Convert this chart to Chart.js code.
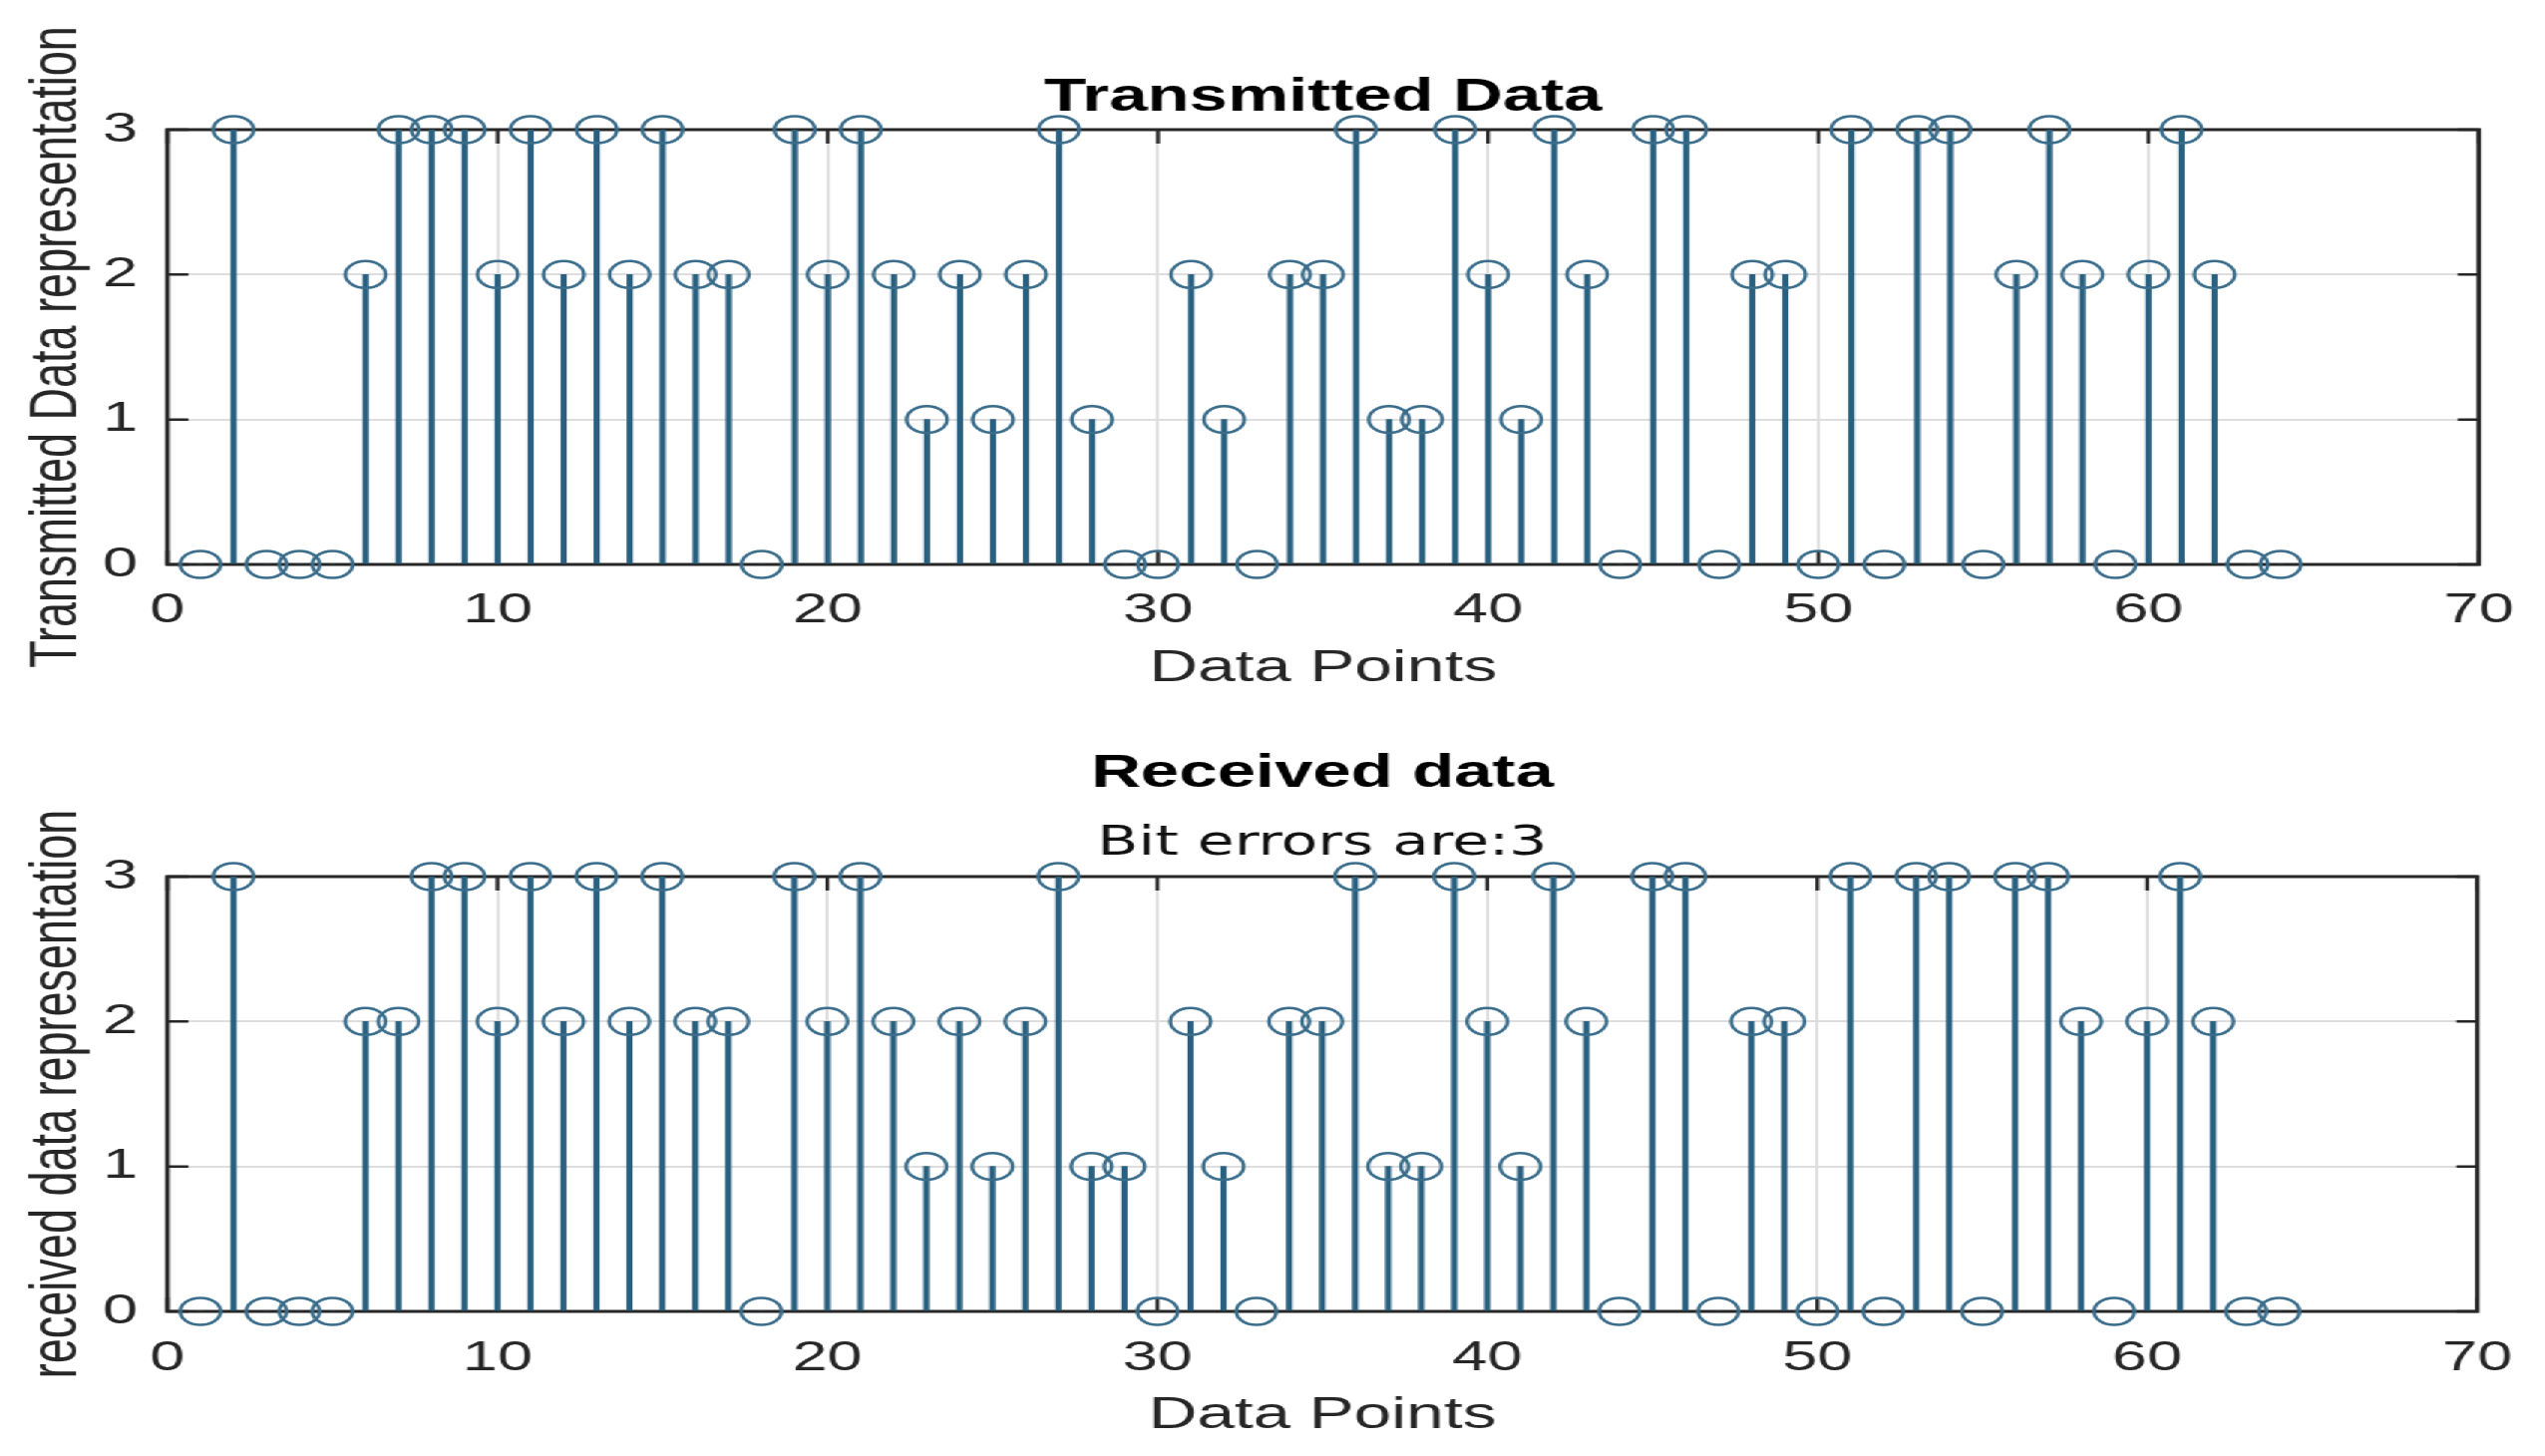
<!DOCTYPE html>
<html>
<head>
<meta charset="utf-8">
<script src="https://cdn.jsdelivr.net/npm/chart.js@4.4.1/dist/chart.umd.min.js"></script>
<style>
  html, body { margin: 0; padding: 0; background: #ffffff; overflow: hidden; }
  #wrap { position: absolute; left: 0; top: 0; width: 1702px; height: 1460px;
          transform: scaleX(1.49941); transform-origin: 0 0; }
  canvas { display: block; }
</style>
</head>
<body>
<div id="wrap">
  <canvas id="c1" width="1702" height="730"></canvas>
  <canvas id="c2" width="1702" height="730"></canvas>
</div>
<script>
// ---- data ----
const dataPoints = [1,2,3,4,5,6,7,8,9,10,11,12,13,14,15,16,17,18,19,20,21,22,23,24,25,26,27,28,29,30,31,32,
                    33,34,35,36,37,38,39,40,41,42,43,44,45,46,47,48,49,50,51,52,53,54,55,56,57,58,59,60,61,62,63,64];
const transmitted = [0,3,0,0,0,2,3,3,3,2,3,2,3,2,3,2,2,0,3,2,3,2,1,2,1,2,3,1,0,0,2,1,
                     0,2,2,3,1,1,3,2,1,3,2,0,3,3,0,2,2,0,3,0,3,3,0,2,3,2,0,2,3,2,0,0];
const received    = [0,3,0,0,0,2,2,3,3,2,3,2,3,2,3,2,2,0,3,2,3,2,1,2,1,2,3,1,1,0,2,1,
                     0,2,2,3,1,1,3,2,1,3,2,0,3,3,0,2,2,0,3,0,3,3,0,3,3,2,0,2,3,2,0,0];
const xTickValues = [0,10,20,30,40,50,60,70];
const yTickValues = [0,1,2,3];
const bitErrors = 3;

// ---- styles ----
const FONT = "'Liberation Sans', Arial, Helvetica, sans-serif";
Chart.defaults.font.family = FONT;
const STEM_COLOR = '#29607f';
const MARK_COLOR = '#3a6d8b';
const AXIS_COLOR = '#262626';
const GRID_COLOR = '#dedede';
const TICK_LEN = 14;

const matlabAxes = {
  id: 'matlabAxes',
  beforeDatasetsDraw(chart) {
    const {ctx, chartArea: a, scales: {x, y}} = chart;
    ctx.save();
    ctx.strokeStyle = AXIS_COLOR;
    ctx.lineWidth = 2.5;
    ctx.beginPath();
    x.ticks.forEach(t => {
      const px = x.getPixelForValue(t.value);
      ctx.moveTo(px, a.bottom); ctx.lineTo(px, a.bottom - TICK_LEN);
      ctx.moveTo(px, a.top); ctx.lineTo(px, a.top + TICK_LEN);
    });
    y.ticks.forEach(t => {
      const py = y.getPixelForValue(t.value);
      ctx.moveTo(a.left, py); ctx.lineTo(a.left + TICK_LEN, py);
      ctx.moveTo(a.right, py); ctx.lineTo(a.right - TICK_LEN, py);
    });
    ctx.stroke();
    ctx.lineWidth = 3;
    ctx.strokeRect(a.left, a.top, a.right - a.left, a.bottom - a.top);
    ctx.restore();
  }
};

function makeChart(id, values, cfg) {
  const pts = dataPoints.map((p, i) => ({x: p, y: values[i]}));
  const plugins = {
    legend: {display: false},
    tooltip: {enabled: false},
    title: {
      display: true, text: cfg.title, color: '#000000', fullSize: false,
      font: {family: FONT, size: 46, weight: 'bold'},
      padding: cfg.titlePadding
    }
  };
  if (cfg.subtitle) {
    plugins.subtitle = {
      display: true, text: cfg.subtitle, color: '#111111', fullSize: false,
      font: {family: "'DejaVu Sans', sans-serif", size: 40, weight: 'normal'},
      padding: cfg.subtitlePadding
    };
  }
  return new Chart(document.getElementById(id), {
    type: 'bar',
    data: {
      datasets: [
        {
          type: 'line', data: pts, showLine: false, order: 0, clip: false,
          pointStyle: 'circle', pointRadius: 13.5, pointHoverRadius: 13.5,
          pointBorderWidth: 2.5, pointBorderColor: MARK_COLOR,
          pointBackgroundColor: 'rgba(255,255,255,0)'
        },
        {
          type: 'bar', data: pts, order: 1, barThickness: 3.5,
          backgroundColor: STEM_COLOR, borderWidth: 0
        }
      ]
    },
    options: {
      responsive: false,
      animation: false,
      devicePixelRatio: 1,
      layout: {padding: {left: 0, right: 36, top: 0, bottom: 0}},
      plugins,
      scales: {
        x: {
          type: 'linear', min: 0, max: 70, offset: false,
          afterBuildTicks(scale) { scale.ticks = xTickValues.map(v => ({value: v})); },
          ticks: {padding: cfg.xTickPad, color: AXIS_COLOR, font: {size: 42}, maxRotation: 0, autoSkip: false},
          grid: {color: GRID_COLOR, lineWidth: 2, drawTicks: false, offset: false},
          border: {display: false},
          title: {display: true, text: 'Data Points', color: AXIS_COLOR, font: {size: 45},
                  padding: {top: 0, bottom: cfg.xTitlePad}},
          afterFit(scale) { scale.height = cfg.xHeight; }
        },
        y: {
          type: 'linear', min: 0, max: 3,
          afterBuildTicks(scale) { scale.ticks = yTickValues.map(v => ({value: v})); },
          ticks: {padding: 20, color: AXIS_COLOR, font: {size: 42}},
          grid: {color: GRID_COLOR, lineWidth: 2, drawTicks: false},
          border: {display: false},
          title: {display: true, text: cfg.yTitle, color: AXIS_COLOR, font: {size: 45},
                  padding: {top: 12, bottom: 0}},
          afterFit(scale) { scale.width = 112; }
        }
      }
    },
    plugins: [matlabAxes]
  });
}

makeChart('c1', transmitted, {
  title: 'Transmitted Data',
  titlePadding: {top: 70.4, bottom: 4.4},
  yTitle: 'Transmitted Data representation',
  xHeight: 164, xTickPad: 21, xTitlePad: 32
});
makeChart('c2', received, {
  title: 'Received data',
  titlePadding: {top: 18.4, bottom: 0},
  subtitle: 'Bit errors are:' + bitErrors,
  subtitlePadding: {top: 18.9, bottom: 8.5},
  yTitle: 'received data representation',
  xHeight: 145, xTickPad: 22, xTitlePad: 13
});
</script>
</body>
</html>
